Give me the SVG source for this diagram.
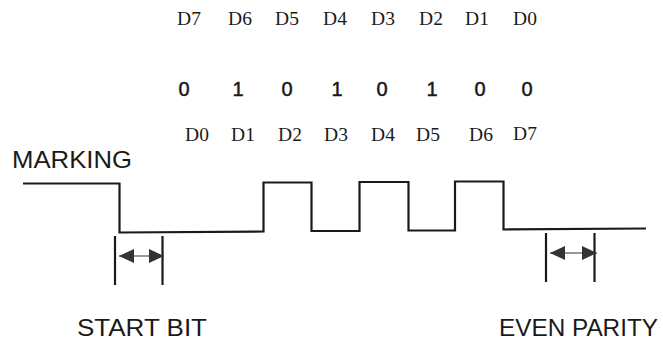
<svg xmlns="http://www.w3.org/2000/svg" width="663" height="344" viewBox="0 0 663 344">
  <style>
    .bitno { font-family: "Liberation Serif", "Times New Roman", serif; font-size: 19.5px; fill: #1a1a1a; text-anchor: middle; }
    .bit { font-family: "Liberation Sans", Arial, sans-serif; font-size: 20px; fill: #1a1a1a; stroke: #1a1a1a; stroke-width: 0.5; text-anchor: middle; }
    .caption { font-family: "Liberation Sans", Arial, sans-serif; font-size: 24px; fill: #1a1a1a; }
    .wave { fill: none; stroke: #1a1a1a; stroke-width: 2.2; stroke-linejoin: miter; }
    .tick { stroke: #1a1a1a; stroke-width: 2.2; }
    .span { stroke: #333; stroke-width: 1.2; marker-start: url(#head); marker-end: url(#head); }
  </style>
  <defs>
    <marker id="head" markerUnits="userSpaceOnUse" markerWidth="15" markerHeight="14" refX="15" refY="7" orient="auto-start-reverse">
      <path d="M0,0 L15,7 L0,14 Z" fill="#333"/>
    </marker>
  </defs>
  <rect width="663" height="344" fill="#ffffff"/>

  <!-- bit numbering, MSB first -->
  <g id="order-msb">
    <text class="bitno" x="189" y="25">D7</text>
    <text class="bitno" x="240" y="25">D6</text>
    <text class="bitno" x="287" y="25">D5</text>
    <text class="bitno" x="335" y="25">D4</text>
    <text class="bitno" x="383" y="25">D3</text>
    <text class="bitno" x="431" y="25">D2</text>
    <text class="bitno" x="477" y="25">D1</text>
    <text class="bitno" x="525" y="25">D0</text>
  </g>

  <!-- data bits -->
  <g id="bits">
    <text class="bit" x="184" y="96">0</text>
    <text class="bit" x="238" y="96">1</text>
    <text class="bit" x="287" y="96">0</text>
    <text class="bit" x="337" y="96">1</text>
    <text class="bit" x="382" y="96">0</text>
    <text class="bit" x="432" y="96">1</text>
    <text class="bit" x="480" y="96">0</text>
    <text class="bit" x="527" y="96">0</text>
  </g>

  <!-- bit numbering, LSB first (transmission order) -->
  <g id="order-lsb">
    <text class="bitno" x="197" y="141">D0</text>
    <text class="bitno" x="243" y="141">D1</text>
    <text class="bitno" x="290" y="141">D2</text>
    <text class="bitno" x="336" y="141">D3</text>
    <text class="bitno" x="383" y="141">D4</text>
    <text class="bitno" x="428" y="141">D5</text>
    <text class="bitno" x="481" y="141">D6</text>
    <text class="bitno" x="525" y="140">D7</text>
  </g>

  <g id="marking-label">
    <text class="caption" x="12" y="168" font-size="21" textLength="120" lengthAdjust="spacingAndGlyphs">MARKING</text>
  </g>

  <!-- line state over time -->
  <g id="waveform">
    <polyline class="wave" points="23,183.5 119.5,183.5 119.5,232.5 263.5,231.5 263.5,182.5 311.5,182.5 311.5,231 359.5,231 359.5,182 408.5,182 408.5,230.5 455,230.5 455,181.5 503.5,181.5 503.5,229.5 646,228.5"/>
  </g>

  <g id="start-bit">
    <line class="tick" x1="115" y1="236" x2="115" y2="285"/>
    <line class="tick" x1="162.5" y1="236" x2="162.5" y2="285"/>
    <text class="caption" x="77" y="336" textLength="130" lengthAdjust="spacingAndGlyphs">START BIT</text>
  </g>

  <g id="even-parity">
    <line class="tick" x1="546" y1="233" x2="546" y2="282"/>
    <line class="tick" x1="594.5" y1="233" x2="594.5" y2="282"/>
    <text class="caption" x="499" y="336" textLength="159" lengthAdjust="spacingAndGlyphs">EVEN PARITY</text>
  </g>

  <!-- bit-width dimension arrows -->
  <g id="connectors">
    <line class="span" x1="119" y1="256" x2="164" y2="256"/>
    <line class="span" x1="550" y1="253" x2="597" y2="253"/>
  </g>
</svg>
